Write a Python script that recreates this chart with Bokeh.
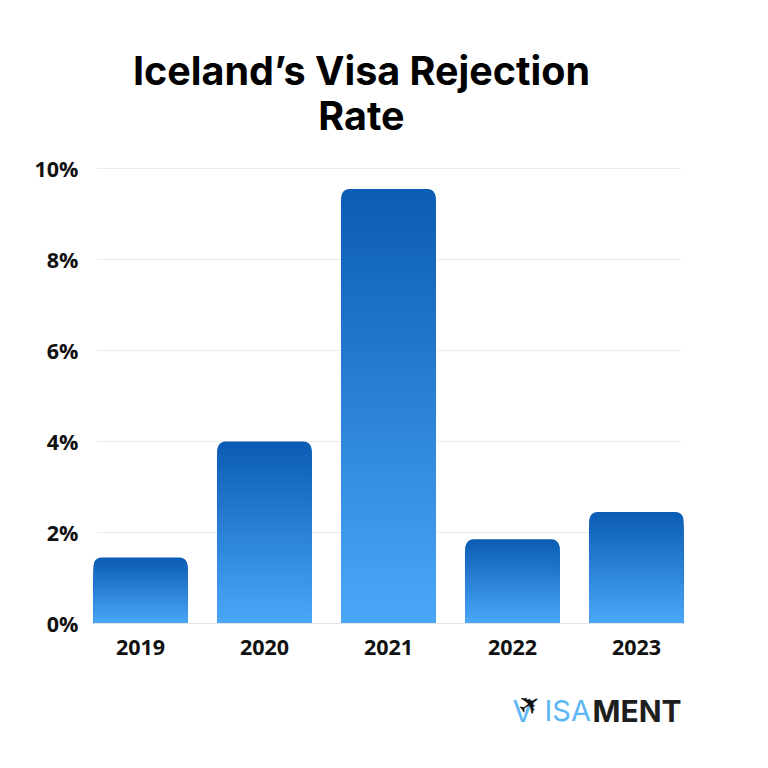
import math
from bokeh.plotting import figure
from bokeh.layouts import column
from bokeh.models import Range1d, FixedTicker, Label
from bokeh.embed import file_html
from bokeh.resources import INLINE

years = [2019, 2020, 2021, 2022, 2023]
rates = [1.45, 4.0, 9.55, 1.85, 2.45]
y_ticks = [0, 2, 4, 6, 8, 10]
y_tick_labels = ["0%", "2%", "4%", "6%", "8%", "10%"]
title_lines = ["Iceland\u2019s Visa Rejection", "Rate"]

TOP = (11, 92, 180)
BOTTOM = (75, 168, 248)
BAR_W = 0.758
RADIUS_PX = 8
STEP_PX = 1.5
PX_Y = 45.5
PX_X = 124.0
HEAD_H, MAIN_H, FOOT_H = 152, 521, 87
WIDTH = 760
FRAME_LEFT = 93


def strip(height):
    f = figure(width=WIDTH, height=height, output_backend="svg", toolbar_location=None,
               x_range=Range1d(0, WIDTH), y_range=Range1d(0, height),
               min_border=0, x_axis_type=None, y_axis_type=None)
    f.outline_line_color = None
    f.grid.grid_line_color = None
    return f


def txt(f, text, px, py, size, color, font="Inter", style="bold", align="left", angle=0):
    f.add_layout(Label(x=px - FRAME_LEFT, y=py, x_units="screen", y_units="screen", text=text,
                       text_font=font, text_font_style=style, text_font_size=size,
                       text_color=color, text_align=align, text_baseline="middle",
                       angle=angle, angle_units="deg"))


head = strip(HEAD_H)
txt(head, title_lines[0], 361, HEAD_H - 70.5, "39.5px", "#000000", align="center")
txt(head, title_lines[1], 361, HEAD_H - 115.5, "39.5px", "#000000", align="center")

p = figure(width=WIDTH, height=MAIN_H, output_backend="svg", toolbar_location=None,
           x_range=Range1d(2018.621, 2023.379), y_range=Range1d(0, 10.02),
           min_border_left=FRAME_LEFT, min_border_right=77, min_border_top=15, min_border_bottom=50)
p.outline_line_color = None
p.xgrid.grid_line_color = None
p.ygrid.grid_line_color = "#ECECEC"
p.ygrid.grid_line_width = 1
p.ygrid[0].cross_bounds = (2018.645, 2023.363)

for ax, ticks, labels in ((p.xaxis[0], years, [str(y) for y in years]), (p.yaxis[0], y_ticks, y_tick_labels)):
    ax.ticker = FixedTicker(ticks=ticks)
    ax.major_label_overrides = dict(zip(ticks, labels))
    ax.major_tick_line_color = None
    ax.minor_tick_line_color = None
    ax.major_label_text_font = "Open Sans"
    ax.major_label_text_font_style = "bold"
    ax.major_label_text_font_size = "21.5px"
    ax.major_label_text_color = "#111111"
p.xaxis[0].axis_line_color = "#E4E4E4"
p.yaxis[0].axis_line_color = None
p.xaxis[0].major_label_standoff = 10
p.yaxis[0].major_label_standoff = 9

# gradient: rounded darkest bar first, then shorter lighter bars over it; within the
# corner zone the slices are narrowed so they stay inside the rounded outline
for yr, v in zip(years, rates):
    p.vbar(x=[yr], top=[v], bottom=0, width=BAR_W, line_color=None,
           fill_color="#%02x%02x%02x" % TOP, border_radius=(RADIUS_PX, RADIUS_PX, 0, 0))
    n = int(v * PX_Y / STEP_PX)
    tops, widths, colors = [], [], []
    for i in range(1, n):
        t = i / n
        depth = v * t * PX_Y
        inset = 0.0
        if depth < RADIUS_PX:
            inset = RADIUS_PX - math.sqrt(RADIUS_PX ** 2 - (RADIUS_PX - depth) ** 2)
        tops.append(v * (1 - t))
        widths.append(BAR_W - 2 * inset / PX_X)
        colors.append("#%02x%02x%02x" % tuple(round(a + (b - a) * t) for a, b in zip(TOP, BOTTOM)))
    p.vbar(x=[yr] * len(tops), top=tops, bottom=0, width=widths, line_color=None, fill_color=colors)

foot = strip(FOOT_H)
base = 673 + FOOT_H
txt(foot, "V", 512, base - 710, "30px", "#5DB7F5", style="normal")
txt(foot, "ISA", 544, base - 710, "29px", "#5DB7F5", style="normal")
txt(foot, "MENT", 592, base - 710, "30px", "#1E1E1E", style="bold")
txt(foot, "\u2708", 529, base - 704, "27px", "#111111", font="DejaVu Sans", style="normal", align="center", angle=35)

page = column(head, p, foot, spacing=0)
open("out.html", "w").write(file_html(page, INLINE))
